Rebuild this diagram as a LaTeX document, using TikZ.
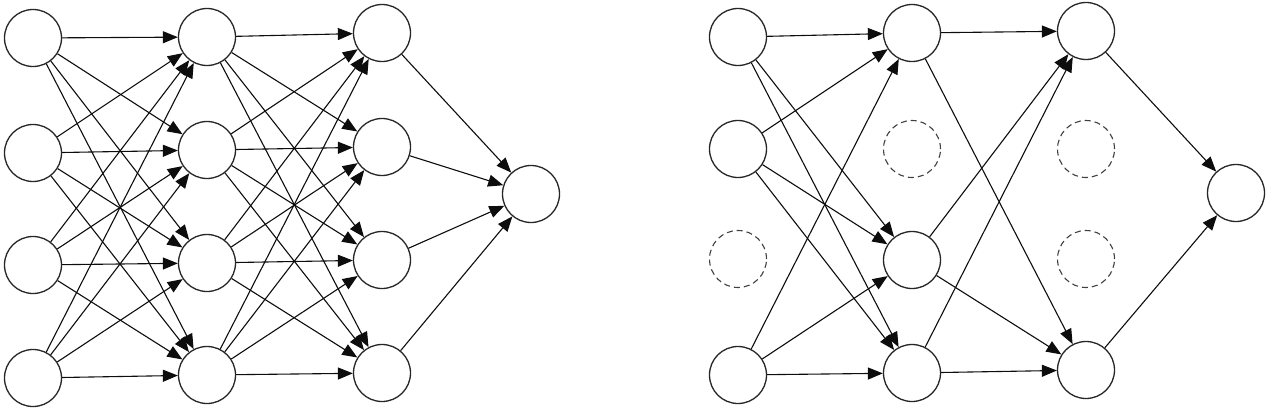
\documentclass[tikz,border=0pt]{standalone}
\usetikzlibrary{arrows.meta}
\begin{document}
\begin{tikzpicture}[x=1pt,y=-1pt,
  neuron/.style={circle,draw=black!85,line width=1.3pt,minimum size=57pt,inner sep=0pt,fill=white},
  dropped/.style={neuron,dash pattern=on 6pt off 4pt,draw=black!75,line width=1.1pt},
  conn/.style={-{Triangle[length=15pt,width=12pt]},line width=1.1pt,draw=black!95}]
\useasboundingbox (0,0) rectangle (1269,420);
% left network
\node[neuron] (a1) at (33,38) {};
\node[neuron] (a2) at (33,153) {};
\node[neuron] (a3) at (33,265) {};
\node[neuron] (a4) at (33,378) {};
\node[neuron] (b1) at (207,37) {};
\node[neuron] (b2) at (207,150) {};
\node[neuron] (b3) at (207,263) {};
\node[neuron] (b4) at (207,375) {};
\node[neuron] (c1) at (382,33) {};
\node[neuron] (c2) at (382,147) {};
\node[neuron] (c3) at (382,260) {};
\node[neuron] (c4) at (382,373) {};
\node[neuron] (o) at (531,194) {};
% right network
\node[neuron] (p1) at (738,37) {};
\node[neuron] (p2) at (738,149) {};
\node[dropped] (p3) at (738,259) {};
\node[neuron] (p4) at (738,375) {};
\node[neuron] (q1) at (912,33) {};
\node[dropped] (q2) at (912,149) {};
\node[neuron] (q3) at (912,260) {};
\node[neuron] (q4) at (912,373) {};
\node[neuron] (r1) at (1086,31) {};
\node[dropped] (r2) at (1086,149) {};
\node[dropped] (r3) at (1086,259) {};
\node[neuron] (r4) at (1086,370) {};
\node[neuron] (s) at (1236,193) {};
% left connections
\foreach \i in {1,...,4}{
  \foreach \j in {1,...,4}{
    \draw[conn] (a\i) -- (b\j);
    \draw[conn] (b\i) -- (c\j);
  }
  \draw[conn] (c\i) -- (o);
}
% right connections
\foreach \i in {1,2,4}{
  \foreach \j in {1,3,4}{
    \draw[conn] (p\i) -- (q\j);
  }
}
\foreach \i in {1,3,4}{
  \foreach \j in {1,4}{
    \draw[conn] (q\i) -- (r\j);
  }
}
\foreach \i in {1,4}{
  \draw[conn] (r\i) -- (s);
}
\end{tikzpicture}
\end{document}
